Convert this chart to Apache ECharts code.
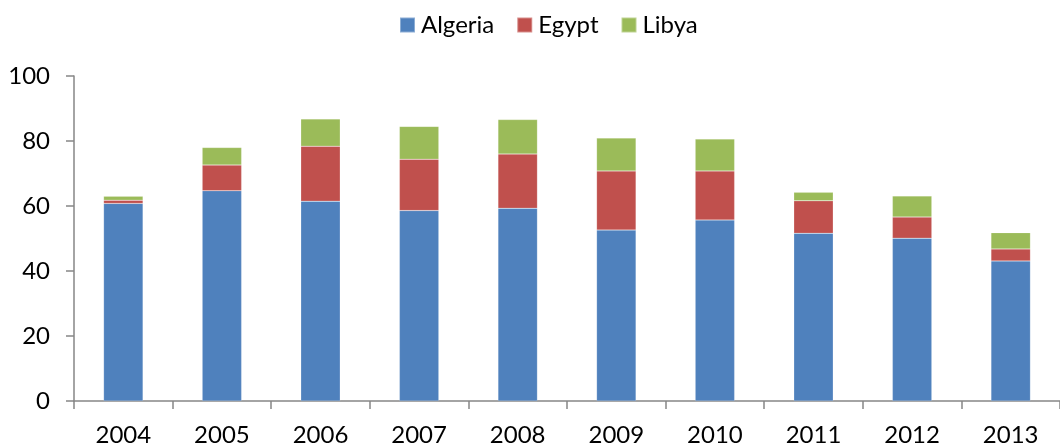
<!DOCTYPE html>
<html>
<head>
<meta charset="utf-8">
<script src="https://cdn.jsdelivr.net/npm/echarts@6/dist/echarts.min.js"></script>
<style>
  html, body { margin: 0; padding: 0; background: #fff; }
  #chart { width: 1060px; height: 448px; }
</style>
</head>
<body>
<div id="chart"></div>
<script>
var years = ['2004', '2005', '2006', '2007', '2008', '2009', '2010', '2011', '2012', '2013'];
var algeria = [60.8, 64.7, 61.5, 58.6, 59.3, 52.6, 55.7, 51.6, 50.1, 43.1];
var egypt = [1.0, 7.9, 16.9, 15.8, 16.7, 18.2, 15.1, 10.0, 6.5, 3.7];
var libya = [1.2, 5.4, 8.4, 10.1, 10.6, 10.1, 9.8, 2.6, 6.5, 5.0];

var font = 'Lato, "Open Sans", sans-serif';
var axisGray = '#868686';

function barSeries(name, data, color) {
  return {
    name: name,
    type: 'bar',
    stack: 'total',
    barWidth: '40%',
    data: data,
    itemStyle: { color: color, borderColor: 'rgba(255,255,255,0.35)', borderWidth: 0.5 }
  };
}

var chart = echarts.init(document.getElementById('chart'));
chart.setOption({
  animation: false,
  textStyle: { fontFamily: font },
  legend: {
    top: 8,
    left: 394,
    itemWidth: 15,
    itemHeight: 15,
    itemGap: 22,
    icon: 'rect',
    textStyle: { fontSize: 24, color: '#000', fontFamily: font, padding: [0, 0, 0, 1] },
    data: ['Algeria', 'Egypt', 'Libya']
  },
  grid: { left: 74, right: -7, top: 76, bottom: 47, containLabel: false },
  xAxis: {
    type: 'category',
    data: years,
    axisLine: { lineStyle: { color: axisGray, width: 1.5 } },
    axisTick: { show: true, length: 8, alignWithLabel: false, lineStyle: { color: axisGray, width: 1.5 } },
    axisLabel: { color: '#000', fontSize: 24, margin: 22, fontFamily: font }
  },
  yAxis: {
    type: 'value',
    min: 0,
    max: 100,
    interval: 20,
    splitLine: { show: false },
    axisLine: { show: true, lineStyle: { color: axisGray, width: 1.5 } },
    axisTick: { show: true, length: 8, lineStyle: { color: axisGray, width: 1.5 } },
    axisLabel: { color: '#000', fontSize: 24, margin: 24, fontFamily: font }
  },
  series: [
    barSeries('Algeria', algeria, '#4F81BD'),
    barSeries('Egypt', egypt, '#C0504D'),
    barSeries('Libya', libya, '#9BBB59')
  ]
});
</script>
</body>
</html>
